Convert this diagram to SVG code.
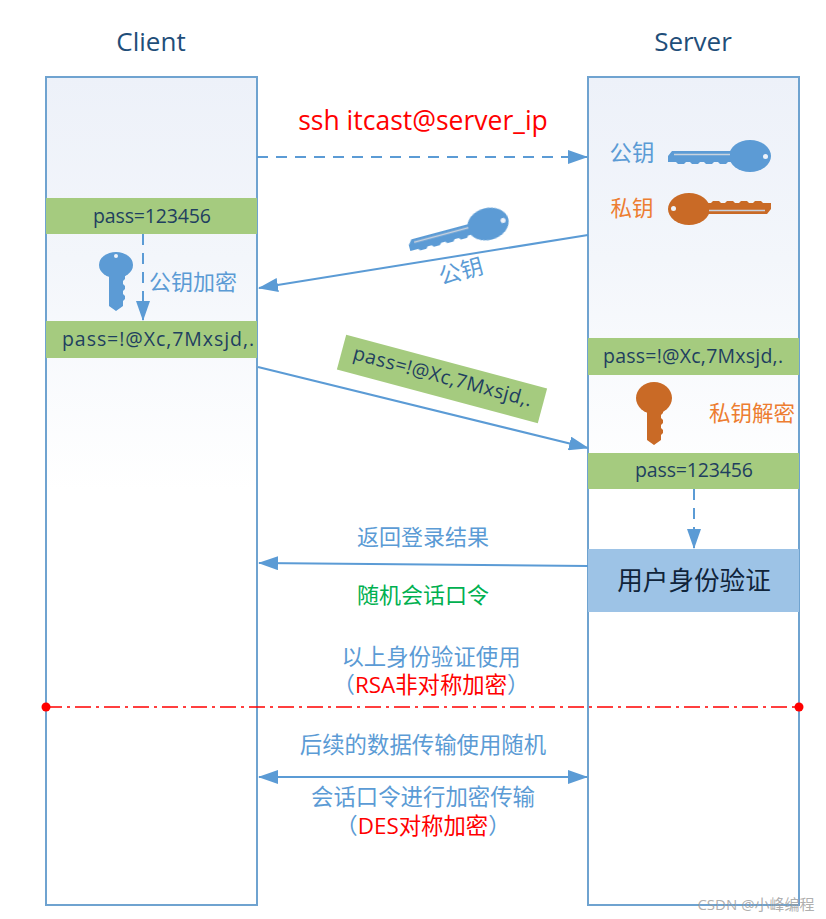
<svg xmlns="http://www.w3.org/2000/svg" width="826" height="919" viewBox="0 0 826 919">
<style>
text{font-family:"Open Sans","Noto Sans CJK SC",sans-serif;text-anchor:middle}
.title{font-size:26px;fill:#1f4e79}
.pass{font-size:19.500px;fill:#1f3f5f}
.blue{font-size:22.400px;fill:#5b9bd5}
.org{font-size:21.500px;fill:#ed7d31}
.red{fill:#f00}
.panel{fill:url(#pg);stroke:#6fa3d0;stroke-width:2}
.bar{fill:#a5cb7f}
.ln{stroke:#5b9bd5;stroke-width:2;fill:none}
.dash{stroke-dasharray:11 8}
.kb{fill:#5b9bd5;filter:url(#soft)}
.ko{fill:#c96a26;filter:url(#soft)}
</style>
<defs>
<linearGradient id="pg" x1="0" y1="0" x2="0" y2="1">
<stop offset="0" stop-color="#edf1f9"/><stop offset="0.22" stop-color="#f3f6fb"/><stop offset="0.5" stop-color="#fff"/><stop offset="1" stop-color="#fff"/>
</linearGradient>
<marker id="ah" viewBox="0 0 20 14" refX="19" refY="7" markerWidth="20" markerHeight="14" markerUnits="userSpaceOnUse" orient="auto-start-reverse">
<path d="M0 0L20 7L0 14z" fill="#5b9bd5"/>
</marker>
<filter id="soft" x="-20%" y="-20%" width="140%" height="140%"><feGaussianBlur stdDeviation="0.7"/></filter>
<g id="keyH">
<path d="M-82 0L-78 -5H-18V-6H-15V6H-22l-2 2h-6l-2-2h-4l-2 2h-6l-2-2h-4l-2 2h-6l-2-2h-4l-2 2h-6l-2-2h-8z"/>
<ellipse cx="0" cy="0" rx="21" ry="16"/>
<path d="M-76 -1.500H-20" stroke="#c9d3de" stroke-width="1.500" fill="none"/>
<circle cx="15.500" cy="0.500" r="2.500" fill="#eef3fa"/>
</g>
<g id="keyV">
<path d="M-7 10V43L0 48L7 43V38L9 36V33L7 31V28L9 26V23L7 21V18L9 16V13L7 11V10z"/>
</g>
</defs>
<rect width="826" height="919" fill="#fff"/>

<g id="client">
<rect class="panel" x="46" y="77" width="211" height="828"/>
<text class="title" x="151" y="51">Client</text>
</g>
<g id="server">
<rect class="panel" x="588" y="77" width="211" height="828"/>
<text class="title" x="693" y="51">Server</text>
</g>

<g id="connectors">
<path class="ln dash" d="M257 157H587" marker-end="url(#ah)"/>
<path class="ln" d="M588 235L259 288" marker-end="url(#ah)"/>
<path class="ln" d="M258 367L588 448" marker-end="url(#ah)"/>
<path class="ln" d="M588 566L259 563" marker-end="url(#ah)"/>
<path class="ln" d="M259 777H587" marker-start="url(#ah)" marker-end="url(#ah)"/>
<path class="ln dash" d="M143 234V320" marker-end="url(#ah)"/>
<path class="ln dash" d="M694 489V548" marker-end="url(#ah)"/>
<path d="M46 707H799" stroke="#f00" stroke-width="1.500" stroke-dasharray="16 5 3 5" fill="none"/>
<circle cx="46" cy="707" r="4.500" fill="#f00"/>
<circle cx="799" cy="707" r="4.500" fill="#f00"/>
</g>

<g id="ssh-label"><text x="423" y="130" font-size="26.500" class="red">ssh itcast@server_ip</text></g>

<g id="server-public-key">
<text class="blue" x="632" y="161">公钥</text>
<use href="#keyH" class="kb" transform="translate(750 156)"/>
</g>
<g id="server-private-key">
<text class="org" x="632" y="216">私钥</text>
<use href="#keyH" class="ko" transform="translate(689 209) rotate(180)"/>
</g>
<g id="sent-public-key">
<use href="#keyH" class="kb" transform="translate(488 224) rotate(-15)"/>
<text class="blue" x="0" y="0" transform="translate(463 279) rotate(-15)">公钥</text>
</g>

<g id="client-pass">
<rect class="bar" x="46" y="198" width="211" height="36"/>
<text class="pass" x="152" y="223" textLength="118">pass=123456</text>
</g>
<g id="client-encrypt">
<g class="kb" transform="translate(116 0)">
<ellipse cx="0" cy="265" rx="17" ry="13"/>
<use href="#keyV" transform="translate(0 263)"/>
<circle cx="0" cy="256" r="2" fill="#eef3fa"/>
</g>
<text class="blue" x="193" y="290" style="font-size:22px">公钥加密</text>
</g>
<g id="client-cipher">
<rect class="bar" x="46" y="321" width="211" height="37"/>
<text class="pass" x="158" y="346" textLength="192">pass=!@Xc,7Mxsjd,.</text>
</g>

<g id="sent-cipher" transform="translate(442 379) rotate(15)">
<rect class="bar" x="-104" y="-18" width="208" height="36"/>
<text class="pass" x="0" y="4" textLength="184">pass=!@Xc,7Mxsjd,.</text>
</g>

<g id="server-cipher">
<rect class="bar" x="588" y="338" width="211" height="37"/>
<text class="pass" x="693" y="363" textLength="180">pass=!@Xc,7Mxsjd,.</text>
</g>
<g id="server-decrypt">
<g class="ko" transform="translate(654 0)">
<ellipse cx="0" cy="398" rx="18" ry="16"/>
<use href="#keyV" transform="translate(0 397)"/>
</g>
<text class="org" x="752" y="421">私钥解密</text>
</g>
<g id="server-pass">
<rect class="bar" x="588" y="453" width="211" height="36"/>
<text class="pass" x="694" y="477" textLength="118">pass=123456</text>
</g>
<g id="auth">
<rect x="588" y="549" width="211" height="63" fill="#9dc3e6"/>
<text x="694" y="590" font-size="25.600" fill="#10243a">用户身份验证</text>
</g>

<g id="labels">
<text class="blue" x="423" y="545" style="font-size:22px">返回登录结果</text>
<text x="423" y="603" font-size="22" fill="#00b050">随机会话口令</text>
<text class="blue" x="431" y="665">以上身份验证使用</text>
<text class="blue" x="431" y="693">（<tspan class="red">RSA非对称加密</tspan>）</text>
<text class="blue" x="423" y="753">后续的数据传输使用随机</text>
<text class="blue" x="423" y="805">会话口令进行加密传输</text>
<text class="blue" x="423" y="834">（<tspan class="red">DES对称加密</tspan>）</text>
</g>
<text x="756" y="910" font-size="15" fill="#9a9a9a" fill-opacity="0.8">CSDN @小峰编程</text>
</svg>
